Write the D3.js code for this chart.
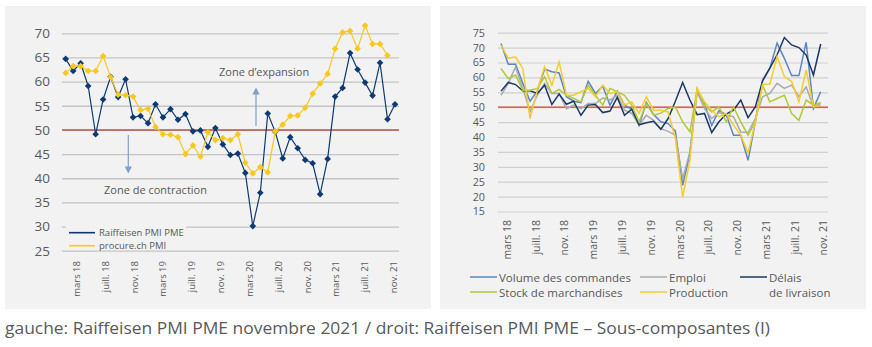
<!DOCTYPE html>
<html>
<head>
<meta charset="utf-8">
<script src="https://cdn.jsdelivr.net/npm/d3@7"></script>
<style>
body { margin: 0; background: #fff; }
text { font-family: "Open Sans", "Noto Sans", sans-serif; fill: #595959; }
</style>
</head>
<body>
<div id="chart-area"></div>
<script>
// Tick labels (every 4 months, mars 18 .. nov. 21)
var tickLabels = ["mars 18", "juill. 18", "nov. 18", "mars 19", "juill. 19", "nov. 19",
    "mars 20", "juill. 20", "nov. 20", "mars 21", "juill. 21", "nov. 21"];

// Left chart: monthly values, mars 18 .. nov. 21
var raiffeisen = [64.7, 62.2, 63.8, 59.1, 49.1, 56.3, 61.0, 56.8, 60.5, 52.6,
    52.9, 51.4, 55.3, 52.6, 54.3, 52.1, 53.3, 49.7, 49.9, 46.5,
    50.4, 47.0, 44.8, 45.1, 41.1, 30.1, 37.0, 53.4, 49.6, 44.1,
    48.5, 46.2, 43.8, 43.1, 36.7, 44.0, 56.9, 58.7, 65.9, 62.5,
    59.8, 57.1, 63.9, 52.2, 55.3];
var procure = [61.8, 63.2, 63.2, 62.2, 62.2, 65.3, 60.9, 57.3, 57.2, 56.9,
    54.1, 54.4, 50.6, 49.1, 49.0, 48.5, 45.0, 46.8, 44.5, 49.5,
    47.9, 48.3, 47.9, 49.1, 43.2, 41.0, 42.3, 41.2, 49.7, 51.1,
    52.9, 53.0, 54.6, 57.5, 59.6, 61.6, 66.8, 70.2, 70.5, 66.8,
    71.6, 67.8, 67.8, 65.4];

// Right chart: sub-components
var volume = [71.4, 64.4, 64.4, 58.0, 52.0, 55.5, 62.8, 61.9, 61.5, 53.5,
    52.0, 51.5, 58.7, 54.6, 57.1, 50.7, 55.4, 50.7, 49.3, 43.9,
    51.6, 47.5, 45.1, 44.5, 42.0, 23.8, 34.5, 55.7, 51.2, 43.9,
    48.9, 47.5, 40.6, 40.6, 32.2, 45.1, 59.1, 63.1, 71.5, 66.4,
    60.6, 60.6, 71.8, 49.6, 55.2];
var emploi = [54.0, 58.0, 63.5, 56.3, 48.5, 54.0, 58.0, 54.6, 54.6, 49.5,
    50.7, 49.5, 51.2, 51.2, 53.1, 52.4, 54.0, 49.0, 47.9, 44.0,
    47.3, 45.6, 42.8, 41.9, 40.6, 26.0, 35.0, 55.2, 49.6, 46.2,
    48.2, 47.3, 46.8, 41.7, 41.5, 46.2, 53.5, 54.6, 58.0, 56.3,
    57.4, 53.5, 56.8, 50.1, 51.2];
var delais = [55.4, 58.3, 57.6, 55.5, 55.5, 54.6, 57.4, 50.9, 54.4, 51.0,
    52.0, 47.3, 50.7, 50.9, 48.2, 48.7, 53.3, 47.3, 49.3, 44.1,
    44.8, 45.3, 42.6, 46.2, 52.0, 58.3, 52.4, 47.5, 47.9, 41.5,
    45.1, 47.7, 49.0, 52.4, 46.5, 50.1, 58.8, 63.1, 67.6, 73.4,
    70.9, 70.0, 67.5, 60.8, 71.2];
var stock = [63.0, 59.6, 60.8, 55.7, 55.7, 56.3, 60.2, 54.6, 56.0, 54.0,
    52.9, 51.8, 57.4, 54.0, 50.7, 56.3, 55.2, 54.0, 50.7, 45.1,
    51.2, 47.3, 48.0, 49.6, 50.1, 45.1, 41.7, 56.3, 50.7, 48.4,
    50.1, 45.1, 50.1, 45.1, 40.6, 45.1, 57.4, 51.8, 52.9, 54.0,
    47.9, 45.6, 52.4, 50.7, 51.6];
var production = [70.8, 66.4, 66.9, 63.0, 46.2, 55.7, 63.6, 57.4, 65.2, 54.0,
    54.0, 55.2, 56.3, 53.5, 57.4, 54.6, 55.2, 50.7, 51.8, 47.9,
    53.5, 49.0, 49.0, 48.4, 39.5, 19.8, 32.2, 56.3, 51.8, 49.0,
    46.8, 47.9, 44.0, 40.6, 34.5, 45.1, 57.7, 57.7, 67.0, 60.3,
    58.6, 51.8, 62.5, 50.1, 50.7];

var leftTicks = [25, 30, 35, 40, 45, 50, 55, 60, 65, 70];
var rightTicks = [15, 20, 25, 30, 35, 40, 45, 50, 55, 60, 65, 70, 75];

var svg = d3.select("#chart-area").append("svg")
    .attr("width", 872)
    .attr("height", 347);

// Panels
svg.append("rect").attr("x", 5).attr("y", 6).attr("width", 426).attr("height", 303).attr("fill", "#f2f2f2");
svg.append("rect").attr("x", 440).attr("y", 6).attr("width", 426).attr("height", 303).attr("fill", "#f2f2f2");

var tickIdx = tickLabels.map(function(d, i) { return i * 4; });

/******************************** Left chart ********************************/
var xL = d3.scaleLinear().domain([0, 44]).range([65.7, 395]);
var xLlab = d3.scaleLinear().domain([0, 44]).range([76, 393.3]);
var yL = d3.scaleLinear().domain([25, 70]).range([250.7, 33.3]);

var gL = svg.append("g");

var yAxisL = gL.append("g")
    .attr("transform", "translate(62,0)")
    .call(d3.axisLeft(yL).tickValues(leftTicks).tickSize(-337).tickPadding(12));
yAxisL.select(".domain").remove();
yAxisL.selectAll("line").attr("stroke", "#c4c4c4").attr("stroke-width", 1.3);
yAxisL.selectAll("text").style("font-size", "13.5px").attr("fill", "#595959");

gL.append("line")
    .attr("x1", 62).attr("x2", 399)
    .attr("y1", yL(50)).attr("y2", yL(50))
    .attr("stroke", "#c0504d").attr("stroke-width", 1.5);

var xAxisL = gL.append("g")
    .attr("transform", "translate(0,261)")
    .call(d3.axisBottom(xLlab).tickValues(tickIdx).tickSize(0)
        .tickFormat(function(d) { return tickLabels[d / 4]; }));
xAxisL.select(".domain").remove();
xAxisL.selectAll("text")
    .attr("transform", "rotate(-90)")
    .attr("x", 0).attr("y", 0).attr("dy", "0.35em")
    .style("text-anchor", "end")
    .style("font-size", "9.5px")
    .attr("fill", "#595959");

// Zone annotations
gL.append("text").attr("x", 219).attr("y", 76).style("font-size", "11px").attr("fill", "#666").text("Zone d’expansion");
gL.append("text").attr("x", 104).attr("y", 194).style("font-size", "11px").attr("fill", "#666").text("Zone de contraction");

svg.append("defs").append("marker")
    .attr("id", "arr").attr("viewBox", "0 0 10 10").attr("refX", 5).attr("refY", 5)
    .attr("markerWidth", 6).attr("markerHeight", 6).attr("orient", "auto")
    .append("path").attr("d", "M0,0 L10,5 L0,10 z").attr("fill", "#7f9fcc");

gL.append("line").attr("x1", 256).attr("x2", 256).attr("y1", 126).attr("y2", 91)
    .attr("stroke", "#7f9fcc").attr("stroke-width", 1.2).attr("marker-end", "url(#arr)");
gL.append("line").attr("x1", 128.3).attr("x2", 128.3).attr("y1", 135).attr("y2", 170)
    .attr("stroke", "#7f9fcc").attr("stroke-width", 1.2).attr("marker-end", "url(#arr)");

var lineL = d3.line()
    .x(function(d, i) { return xL(i); })
    .y(function(d) { return yL(d); });

var diamond = d3.symbol().type(d3.symbolSquare).size(22);

function drawSeries(data, col) {
    gL.append("path")
        .attr("d", lineL(data))
        .attr("fill", "none")
        .attr("stroke", col)
        .attr("stroke-width", 1.2);
    gL.append("g").selectAll("path")
        .data(data)
        .enter().append("path")
        .attr("d", diamond)
        .attr("transform", function(d, i) { return "translate(" + xL(i) + "," + yL(d) + ") rotate(45)"; })
        .attr("fill", col);
}
drawSeries(raiffeisen, "#0d3a74");
drawSeries(procure, "#f7c81e");

// Legend left
gL.append("rect").attr("x", 66).attr("y", 226).attr("width", 120).attr("height", 23).attr("fill", "#f2f2f2");
var legL = [["Raiffeisen PMI PME", "#0d3a74"], ["procure.ch PMI", "#f7c81e"]];
legL.forEach(function(d, i) {
    gL.append("line").attr("x1", 69).attr("x2", 95).attr("y1", 232.7 + i * 13).attr("y2", 232.7 + i * 13)
        .attr("stroke", d[1]).attr("stroke-width", 1.6);
    gL.append("text").attr("x", 99).attr("y", 236.3 + i * 13).style("font-size", "9.5px").attr("fill", "#666").text(d[0]);
});

/******************************** Right chart ********************************/
var xR = d3.scaleLinear().domain([0, 44]).range([501, 820.7]);
var xRlab = d3.scaleLinear().domain([0, 44]).range([506.7, 823.3]);
var yR = d3.scaleLinear().domain([15, 75]).range([211.5, 32.7]);

var gR = svg.append("g");

var yAxisR = gR.append("g")
    .attr("transform", "translate(498,0)")
    .call(d3.axisLeft(yR).tickValues(rightTicks).tickSize(-330).tickPadding(13));
yAxisR.select(".domain").remove();
yAxisR.selectAll("line").attr("stroke", "#d0d0d0").attr("stroke-width", 1.2);
yAxisR.selectAll("text").style("font-size", "10.8px").attr("fill", "#595959");

gR.append("line")
    .attr("x1", 498).attr("x2", 828)
    .attr("y1", yR(50)).attr("y2", yR(50))
    .attr("stroke", "#e23a2e").attr("stroke-width", 1.2);

var xAxisR = gR.append("g")
    .attr("transform", "translate(0,220)")
    .call(d3.axisBottom(xRlab).tickValues(tickIdx).tickSize(0)
        .tickFormat(function(d) { return tickLabels[d / 4]; }));
xAxisR.select(".domain").remove();
xAxisR.selectAll("text")
    .attr("transform", "rotate(-90)")
    .attr("x", 0).attr("y", 0).attr("dy", "0.35em")
    .style("text-anchor", "end")
    .style("font-size", "10.5px")
    .attr("fill", "#595959");

var lineR = d3.line()
    .x(function(d, i) { return xR(i); })
    .y(function(d) { return yR(d); });

var seriesR = [
    ["Volume des commandes", volume, "#5b86c4"],
    ["Emploi", emploi, "#a8abae"],
    ["Délais de livraison", delais, "#1b3866"],
    ["Stock de marchandises", stock, "#b2c936"],
    ["Production", production, "#f5cd2a"]
];
seriesR.forEach(function(s) {
    gR.append("path")
        .attr("d", lineR(s[1]))
        .attr("fill", "none")
        .attr("stroke", s[2])
        .attr("stroke-width", 1.5);
});

// Legend right
var legR = [
    [470, 277, "Volume des commandes", "#5b86c4"],
    [640, 277, "Emploi", "#a8abae"],
    [740, 277, "Délais", "#1b3866"],
    [470, 292, "Stock de marchandises", "#b2c936"],
    [640, 292, "Production", "#f5cd2a"]
];
legR.forEach(function(d) {
    gR.append("line").attr("x1", d[0]).attr("x2", d[0] + 27).attr("y1", d[1]).attr("y2", d[1])
        .attr("stroke", d[3]).attr("stroke-width", 1.5);
    gR.append("text").attr("x", d[0] + 29).attr("y", d[1] + 4.5).style("font-size", "11.5px").attr("fill", "#595959").text(d[2]);
});
gR.append("text").attr("x", 769).attr("y", 296.5).style("font-size", "11.5px").attr("fill", "#595959").text("de livraison");

// Caption
svg.append("text")
    .attr("x", 5).attr("y", 334)
    .attr("textLength", 765).attr("lengthAdjust", "spacingAndGlyphs")
    .style("font-size", "16.5px").attr("fill", "#777")
    .text("gauche: Raiffeisen PMI PME novembre 2021 / droit: Raiffeisen PMI PME – Sous-composantes (I)");
</script>
</body>
</html>
